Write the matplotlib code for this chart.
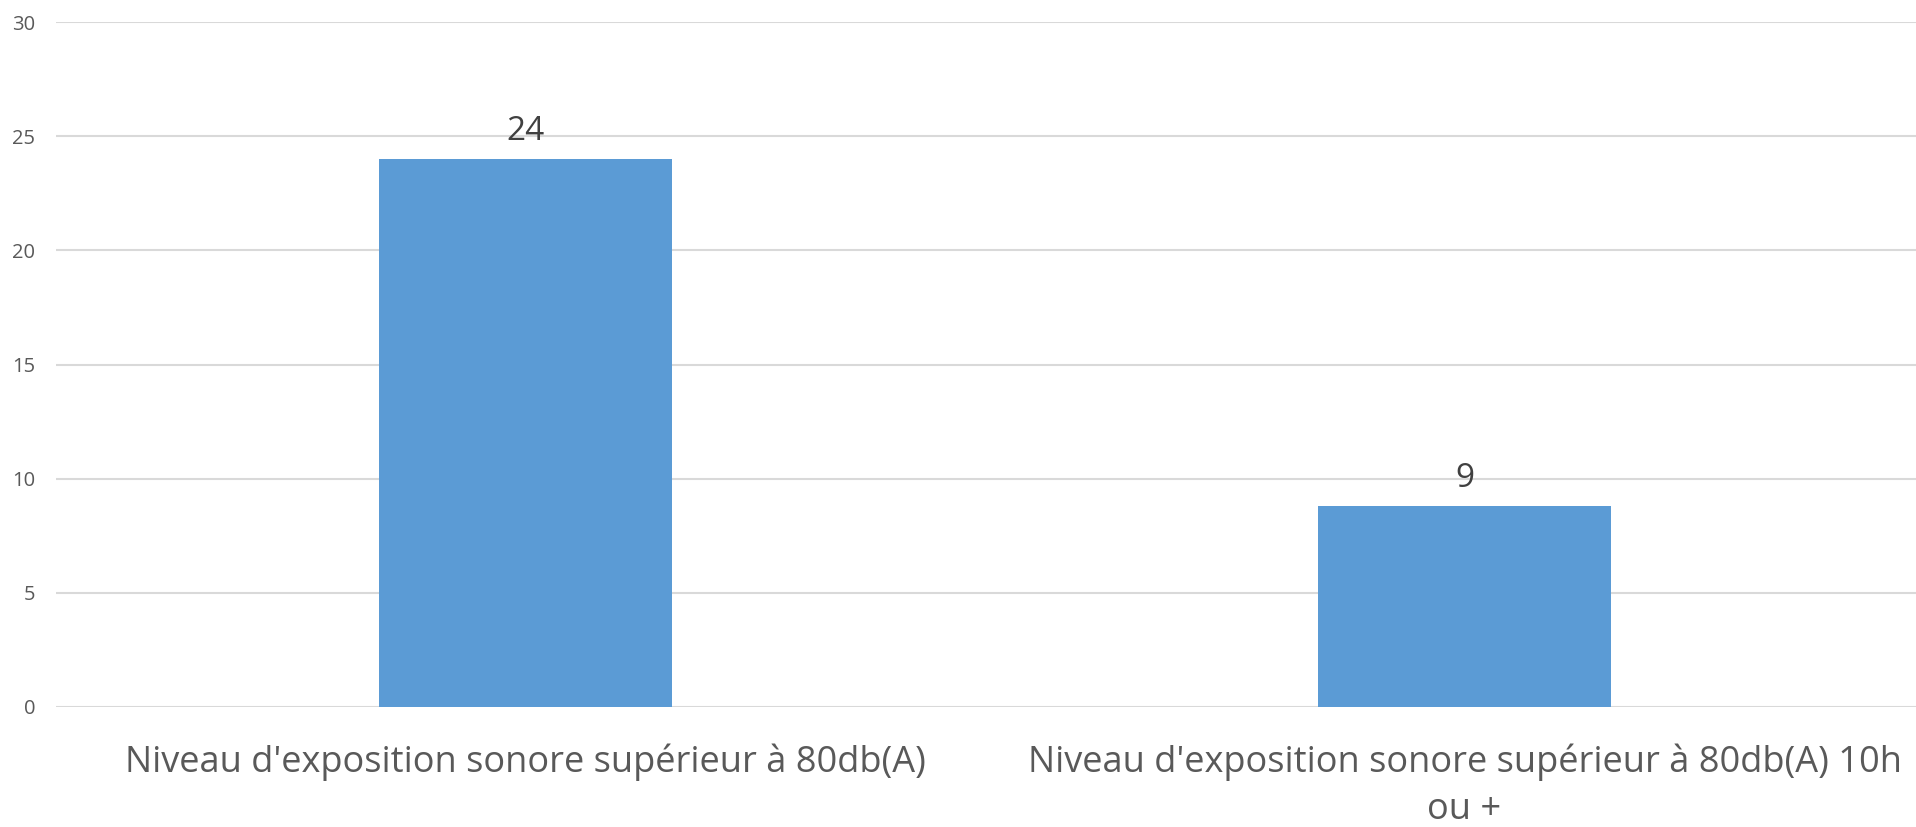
import matplotlib.pyplot as plt

plt.rcParams['font.family'] = ['Open Sans', 'DejaVu Sans']

categories = ["Niveau d'exposition sonore supérieur à 80db(A)",
              "Niveau d'exposition sonore supérieur à 80db(A) 10h\nou +"]
values = [24.0, 8.8]
value_labels = ["24", "9"]
yticks = [0, 5, 10, 15, 20, 25, 30]

fig = plt.figure(figsize=(19.16, 8.27), dpi=100)
ax = fig.add_axes([56 / 1916, 120 / 827, 1878 / 1916, 685 / 827])

x = range(len(categories))
bars = ax.bar(x, values, width=0.313, color='#5B9BD5', zorder=3)

for b, lab in zip(bars, value_labels):
    ax.annotate(lab, (b.get_x() + b.get_width() / 2, b.get_height()),
                xytext=(0, 8), textcoords='offset points',
                ha='center', va='bottom', fontsize=24, color='#404040')

ax.set_xlim(-0.5, 1.5)
ax.set_ylim(0, 30)
ax.set_yticks(yticks)
ax.set_xticks(list(x))
ax.set_xticklabels(categories, fontsize=26, color='#595959', linespacing=1.42)
ax.tick_params(axis='y', labelsize=14.5, labelcolor='#595959', length=0, pad=15)
ax.tick_params(axis='x', length=0, pad=26)
ax.yaxis.grid(True, color='#d9d9d9', linewidth=1.5, zorder=0)
for s in ax.spines.values():
    s.set_visible(False)

fig.savefig('out.png', dpi=100)
